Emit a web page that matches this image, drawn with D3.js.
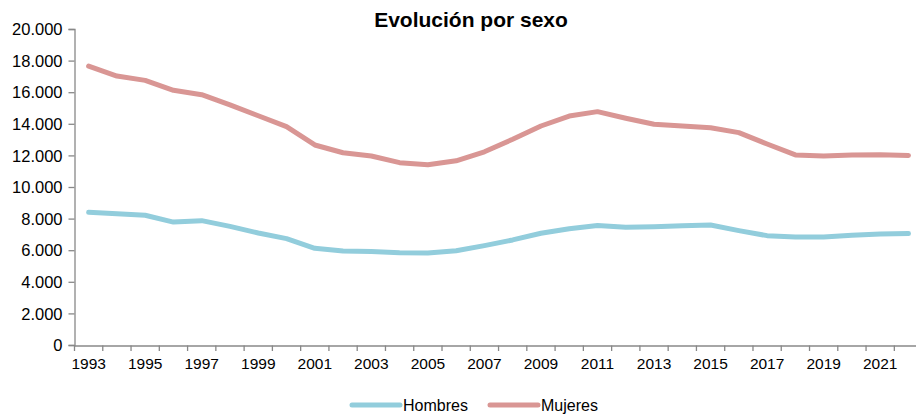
<!DOCTYPE html>
<html><head><meta charset="utf-8">
<script src="https://cdn.jsdelivr.net/npm/d3@7/dist/d3.min.js"></script>
<style>body{margin:0;background:#fff}svg{display:block}text{font-family:Arial,"Liberation Sans",sans-serif;fill:#000}</style>
</head><body>
<script>
const years = d3.range(1993, 2023);
const hombres = [8400,8310,8210,7780,7870,7510,7090,6730,6120,5950,5910,5840,5820,5970,6290,6650,7070,7360,7570,7450,7490,7550,7590,7240,6920,6840,6840,6940,7030,7050];
const mujeres = [17650,17020,16750,16120,15840,15200,14510,13820,12660,12170,11960,11540,11410,11660,12230,13020,13860,14490,14770,14350,13970,13860,13750,13440,12720,12030,11960,12030,12040,12000];
const yTicks = [0,2000,4000,6000,8000,10000,12000,14000,16000,18000,20000];
const xLabels = years.filter(y => y % 2 === 1);
const series = [
  {name: "Hombres", values: hombres, color: "#92CDDC"},
  {name: "Mujeres", values: mujeres, color: "#D99694"}
];

const W = 916, H = 416;
const svg = d3.select("body").append("svg").attr("width", W).attr("height", H);
const x = d3.scaleBand().domain(years).range([74.5, 74.5 + 30 * 28.27]);
const y = d3.scaleLinear().domain([0, 20000]).range([345, 29]);
const fmt = v => d3.format(",")(v).replace(/,/g, ".");

// Y axis
const ya = svg.append("g").attr("transform", "translate(74.5,0)")
  .call(d3.axisLeft(y).tickValues(yTicks).tickFormat(fmt).tickSizeOuter(0).tickSize(6).tickPadding(6));
ya.selectAll("text").style("font-size", "16.5px").style("font-family", "Arial, 'Liberation Sans', sans-serif").attr("dy", "0.34em");
ya.select(".domain").attr("stroke", "#888").attr("stroke-width", 1.3);
ya.selectAll(".tick line").attr("stroke", "#888").attr("stroke-width", 1.3);

// X axis
const xa = svg.append("g").attr("transform", "translate(0,345.5)")
  .call(d3.axisBottom(x).tickValues(xLabels).tickSize(0).tickPadding(12).tickSizeOuter(0));
xa.select(".domain").attr("stroke", "#888").attr("stroke-width", 1.3);
xa.selectAll("text").style("font-size", "15.5px").style("font-family", "Arial, 'Liberation Sans', sans-serif");
// tick marks between categories
svg.append("g").selectAll("line").data(years.concat([2023])).join("line")
  .attr("x1", d => d === 2023 ? x(2022) + x.bandwidth() : x(d))
  .attr("x2", d => d === 2023 ? x(2022) + x.bandwidth() : x(d))
  .attr("y1", 345.5).attr("y2", 351)
  .attr("stroke", "#888").attr("stroke-width", 1.3);

// Lines
const line = d3.line().x((d, i) => x(years[i]) + x.bandwidth() / 2).y(d => y(d));
svg.append("g").selectAll("path").data(series).join("path")
  .attr("d", d => line(d.values))
  .attr("fill", "none").attr("stroke", d => d.color)
  .attr("stroke-width", 5).attr("stroke-linejoin", "round").attr("stroke-linecap", "round");

// Title
svg.append("text").attr("x", 471).attr("y", 27).attr("text-anchor", "middle")
  .style("font-size", "21px").style("font-weight", "bold").text("Evolución por sexo");

// Legend
const legX = [352, 490];
const lg = svg.append("g").selectAll("g").data(series).join("g")
  .attr("transform", (d, i) => `translate(${legX[i]},405)`);
lg.append("line").attr("x1", 0).attr("x2", 48).attr("y1", 0).attr("y2", 0)
  .attr("stroke", d => d.color).attr("stroke-width", 5).attr("stroke-linecap", "round");
lg.append("text").attr("x", 51).attr("y", 5.5).style("font-size", "16px").text(d => d.name);
</script>
</body></html>
